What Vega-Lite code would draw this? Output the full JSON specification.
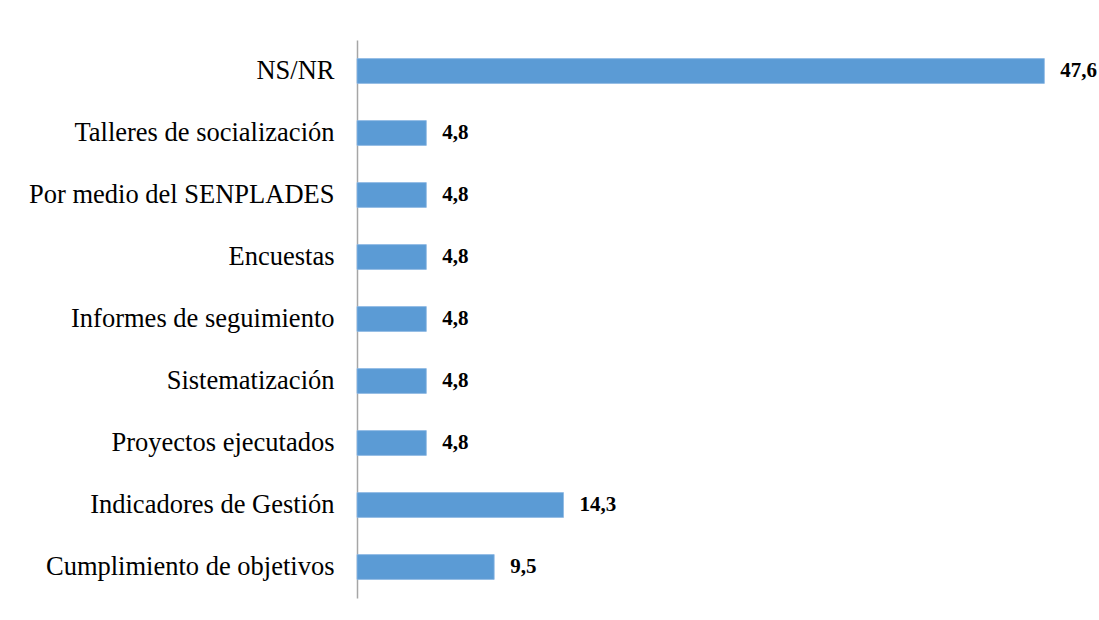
{
  "$schema": "https://vega.github.io/schema/vega-lite/v6.json",
  "autosize": "none",
  "padding": {"left": 357, "top": 40, "right": 20, "bottom": 22},
  "width": 722,
  "height": 558,
  "background": "white",
  "data": {
    "values": [
      {"categoria": "NS/NR", "valor": 47.6, "etiqueta": "47,6"},
      {"categoria": "Talleres de socialización", "valor": 4.8, "etiqueta": "4,8"},
      {"categoria": "Por medio del SENPLADES", "valor": 4.8, "etiqueta": "4,8"},
      {"categoria": "Encuestas", "valor": 4.8, "etiqueta": "4,8"},
      {"categoria": "Informes de seguimiento", "valor": 4.8, "etiqueta": "4,8"},
      {"categoria": "Sistematización", "valor": 4.8, "etiqueta": "4,8"},
      {"categoria": "Proyectos ejecutados", "valor": 4.8, "etiqueta": "4,8"},
      {"categoria": "Indicadores de Gestión", "valor": 14.3, "etiqueta": "14,3"},
      {"categoria": "Cumplimiento de objetivos", "valor": 9.5, "etiqueta": "9,5"}
    ]
  },
  "config": {"view": {"stroke": null}},
  "encoding": {
    "y": {
      "field": "categoria",
      "type": "nominal",
      "sort": null,
      "scale": {"paddingInner": 0.6, "paddingOuter": 0.3},
      "axis": {
        "title": null,
        "ticks": false,
        "domainColor": "#a6a6a6",
        "domainWidth": 1.5,
        "labelFont": "Liberation Serif, Times New Roman, serif",
        "labelFontSize": 26.5,
        "labelColor": "#000000",
        "labelPadding": 23,
        "labelLimit": 400
      }
    },
    "x": {
      "field": "valor",
      "type": "quantitative",
      "scale": {"domain": [0, 50], "nice": false},
      "axis": null
    }
  },
  "layer": [
    {"mark": {"type": "bar", "color": "#5B9BD5", "stroke": "#8DB8E3", "strokeWidth": 0.8}},
    {
      "mark": {"type": "text", "align": "left", "baseline": "middle", "dx": 16, "font": "Liberation Serif, Times New Roman, serif", "fontSize": 21, "fontWeight": "bold", "color": "#000000"},
      "encoding": {"text": {"field": "etiqueta"}}
    }
  ]
}
